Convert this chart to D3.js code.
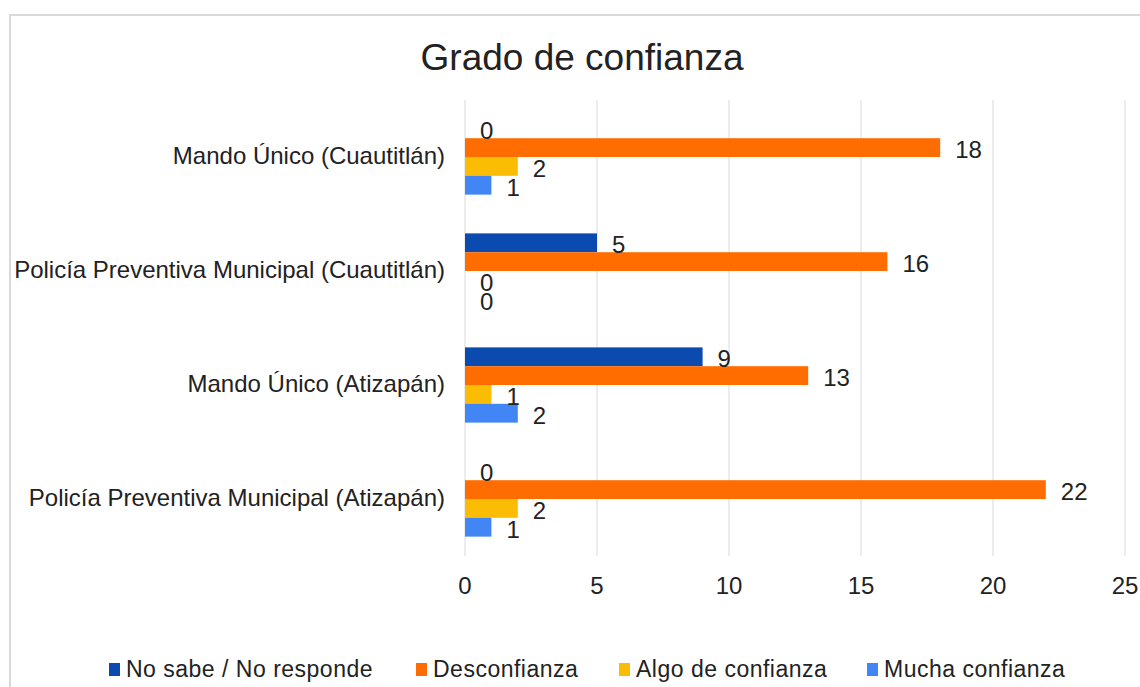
<!DOCTYPE html>
<html>
<head>
<meta charset="utf-8">
<script src="https://cdn.jsdelivr.net/npm/d3@7"></script>
<style>
  body { margin: 0; background: #fff; }
  text { font-family: "Liberation Sans", Arial, sans-serif; fill: #222; }
</style>
</head>
<body>
<svg id="chart" width="1140" height="687"></svg>
<script>
// data
var categories = ["Mando Único (Cuautitlán)", "Policía Preventiva Municipal (Cuautitlán)", "Mando Único (Atizapán)", "Policía Preventiva Municipal (Atizapán)"];
var seriesNames = ["No sabe / No responde", "Desconfianza", "Algo de confianza", "Mucha confianza"];
var noSabe = [0, 5, 9, 0];
var desconfianza = [18, 16, 13, 22];
var algo = [2, 0, 1, 2];
var mucha = [1, 0, 2, 1];
var xTicks = [0, 5, 10, 15, 20, 25];
var colors = ["#0b4bb0", "#ff6d01", "#fbbc04", "#4285f4"];

var series = [noSabe, desconfianza, algo, mucha];

var svg = d3.select("#chart");

// frame
svg.append("rect")
  .attr("x", 10).attr("y", 15)
  .attr("width", 1150).attr("height", 700)
  .attr("fill", "#fff")
  .attr("stroke", "#d9d9d9")
  .attr("stroke-width", 2);

svg.append("text")
  .attr("x", 582).attr("y", 70)
  .attr("text-anchor", "middle")
  .style("font-size", "37px")
  .text("Grado de confianza");

var x = d3.scaleLinear().domain([0, 25]).range([465, 1125]);
var y = d3.scaleBand().domain(categories).range([100, 556]).paddingInner(0.34).paddingOuter(0.17);
var ySub = d3.scaleBand().domain(d3.range(4)).range([0, y.bandwidth()]);

// grid
svg.append("g").selectAll("line")
  .data(xTicks)
  .enter().append("line")
  .attr("x1", d => x(d)).attr("x2", d => x(d))
  .attr("y1", 100).attr("y2", 556)
  .attr("stroke", "#d9d9d9")
  .attr("stroke-width", 1);

// tick labels
svg.append("g").selectAll("text")
  .data(xTicks)
  .enter().append("text")
  .attr("x", d => x(d)).attr("y", 594)
  .attr("text-anchor", "middle")
  .style("font-size", "24px")
  .text(d => d);

// category labels
svg.append("g").selectAll("text")
  .data(categories)
  .enter().append("text")
  .attr("x", 445)
  .attr("y", d => y(d) + y.bandwidth() / 2)
  .attr("dy", "0.3em")
  .attr("text-anchor", "end")
  .style("font-size", "24px")
  .text(d => d);

// bars
var flat = [];
categories.forEach(function(c, i) {
  series.forEach(function(s, j) {
    flat.push({cat: c, s: j, v: s[i]});
  });
});

svg.append("g").selectAll("rect")
  .data(flat)
  .enter().append("rect")
  .attr("x", x(0))
  .attr("y", d => y(d.cat) + ySub(d.s))
  .attr("width", d => x(d.v) - x(0))
  .attr("height", ySub.bandwidth())
  .attr("fill", d => colors[d.s]);

svg.append("g").selectAll("text")
  .data(flat)
  .enter().append("text")
  .attr("x", d => x(d.v) + 15)
  .attr("y", d => y(d.cat) + ySub(d.s) + ySub.bandwidth() / 2 + 2)
  .attr("dy", "0.35em")
  .style("font-size", "24px")
  .text(d => d.v);

// legend
var legendX = [109, 416, 619, 867];
var lg = svg.append("g").selectAll("g")
  .data(seriesNames)
  .enter().append("g")
  .attr("transform", (d, i) => "translate(" + legendX[i] + ",669)");
lg.append("rect")
  .attr("x", 0).attr("y", -6)
  .attr("width", 11).attr("height", 13)
  .attr("fill", (d, i) => colors[i]);
lg.append("text")
  .attr("x", 17).attr("y", 0)
  .attr("dy", "0.35em")
  .style("font-size", "23px")
  .style("letter-spacing", "0.5px")
  .text(d => d);
</script>
</body>
</html>
